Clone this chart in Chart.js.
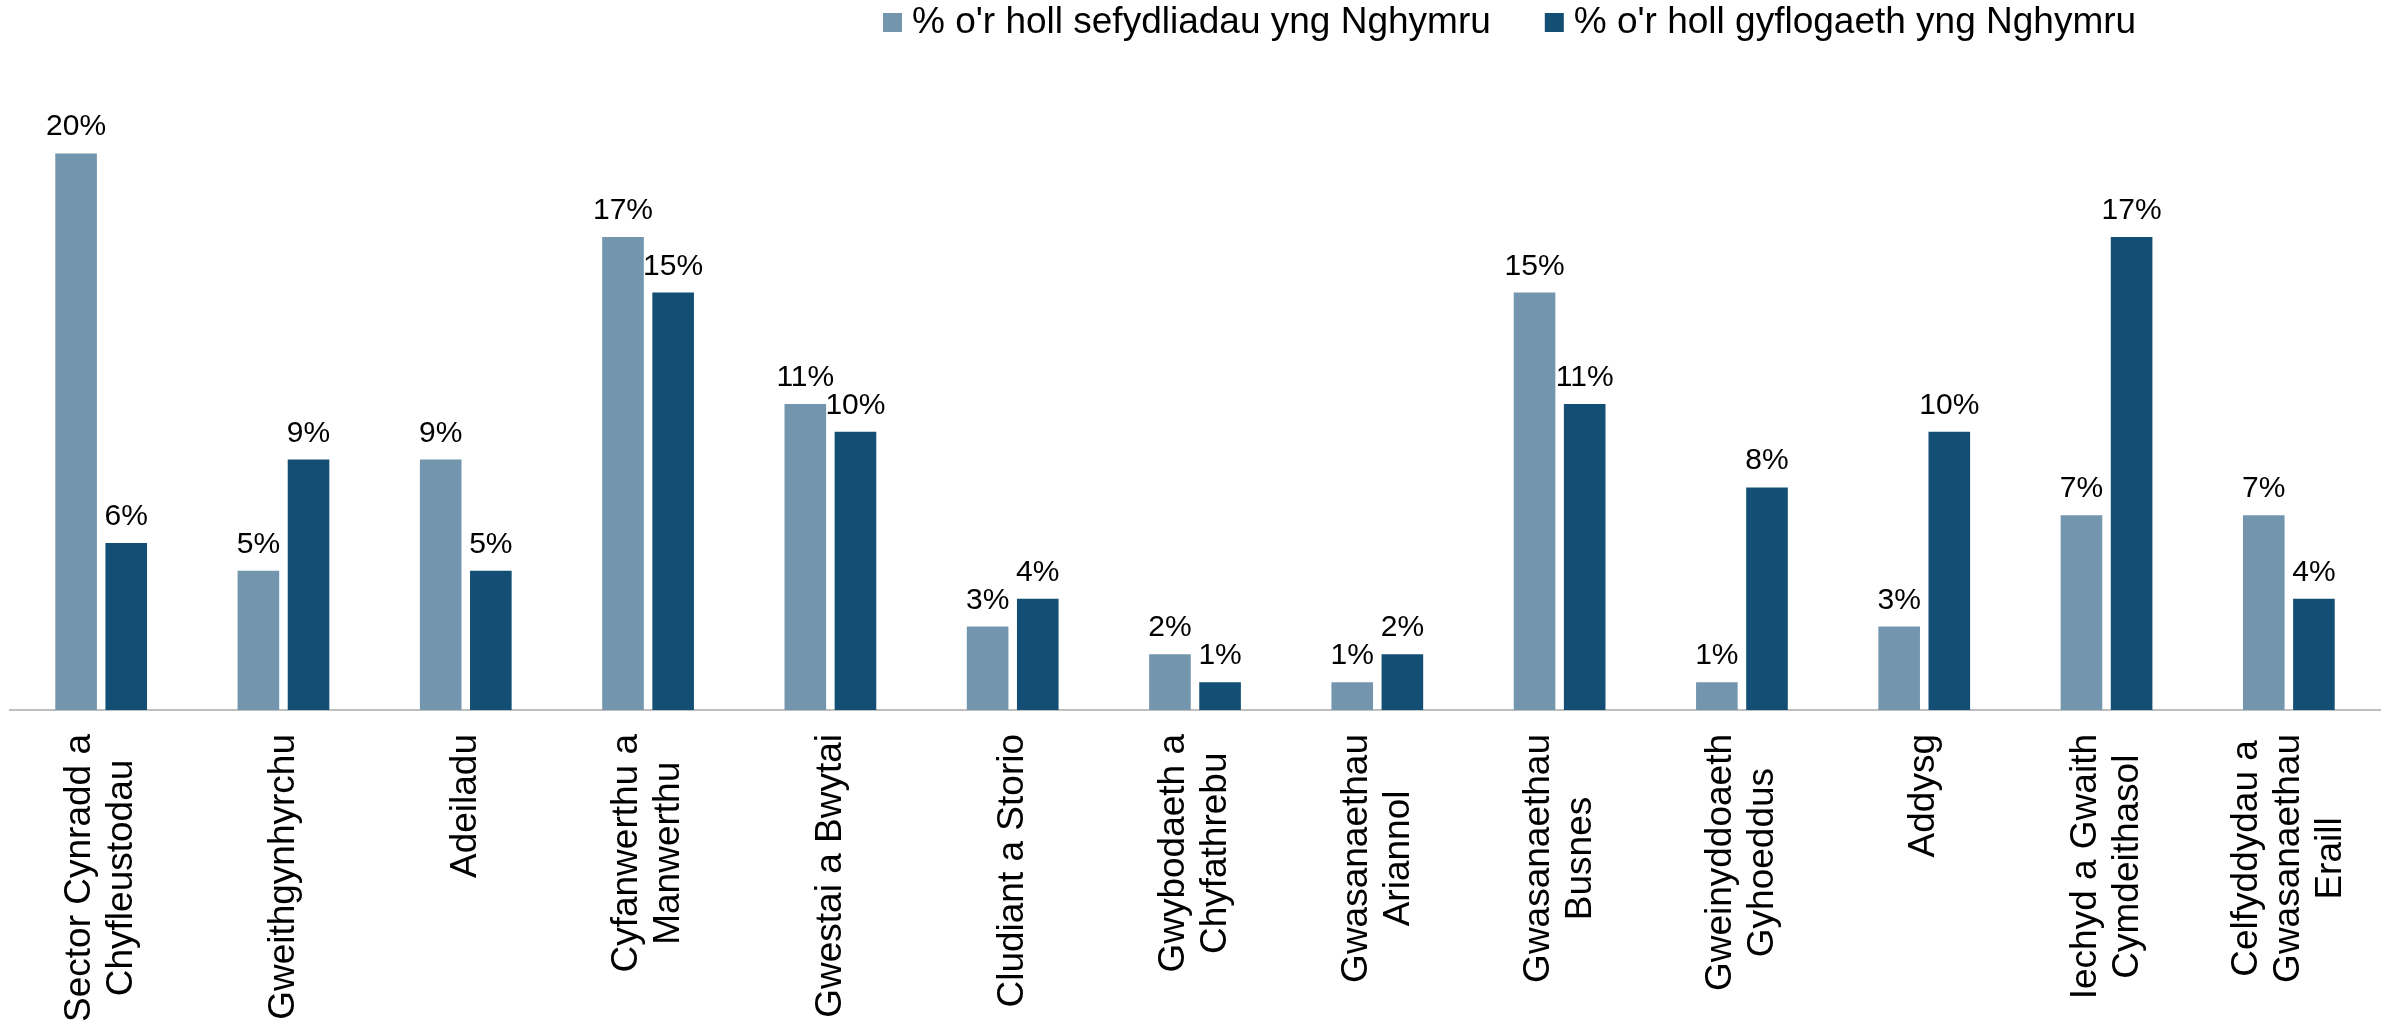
<!DOCTYPE html>
<html>
<head>
<meta charset="utf-8">
<title>Sefydliadau a chyflogaeth yng Nghymru</title>
<script src="https://cdn.jsdelivr.net/npm/chart.js@4"></script>
<style>
  html, body { margin: 0; padding: 0; background: #fff; }
  .chartblock { width: 2394px; height: 1025px; position: relative; }
</style>
</head>
<body>
<div class="chartblock"><canvas id="chart"></canvas></div>
<script>
// categories (each entry is the lines of the label)
const categories = [
  ['Sector Cynradd a', 'Chyfleustodau'],
  ['Gweithgynhyrchu'],
  ['Adeiladu'],
  ['Cyfanwerthu a', 'Manwerthu'],
  ['Gwestai a Bwytai'],
  ['Cludiant a Storio'],
  ['Gwybodaeth a', 'Chyfathrebu'],
  ['Gwasanaethau', 'Ariannol'],
  ['Gwasanaethau', 'Busnes'],
  ['Gweinyddoaeth', 'Gyhoeddus'],
  ['Addysg'],
  ['Iechyd a Gwaith', 'Cymdeithasol'],
  ['Celfyddydau a', 'Gwasanaethau', 'Eraill'],
];

const seriesNames = ["% o'r holl sefydliadau yng Nghymru", "% o'r holl gyflogaeth yng Nghymru"];
const sefydliadau = [20, 5, 9, 17, 11, 3, 2, 1, 15, 1, 3, 7, 7];
const cyflogaeth = [6, 9, 5, 15, 10, 4, 1, 2, 11, 8, 10, 17, 4];

const FONT = '"Liberation Sans", Arial, sans-serif';
const colors = ['#7396AE', '#134F74'];

// labels above each bar
const valueLabels = {
  id: 'valueLabels',
  afterDatasetsDraw(chart) {
    const ctx = chart.ctx;
    ctx.save();
    ctx.font = `30px ${FONT}`;
    ctx.fillStyle = '#000';
    ctx.textAlign = 'center';
    ctx.textBaseline = 'alphabetic';
    chart.data.datasets.forEach((ds, i) => {
      chart.getDatasetMeta(i).data.forEach((bar, j) => {
        ctx.fillText(ds.data[j] + '%', bar.x, bar.y - 18);
      });
    });
    ctx.restore();
  }
};

// vertical category labels, lines centred on each other
const categoryLabels = {
  id: 'categoryLabels',
  afterDraw(chart) {
    const ctx = chart.ctx;
    const xScale = chart.scales.x;
    const axisY = chart.chartArea.bottom;
    const lineHeight = 42;
    ctx.save();
    ctx.font = `37px ${FONT}`;
    ctx.fillStyle = '#000';
    ctx.textAlign = 'center';
    ctx.textBaseline = 'middle';
    categories.forEach((lines, i) => {
      const x = xScale.getPixelForValue(i);
      const maxW = Math.max(...lines.map(l => ctx.measureText(l).width));
      ctx.save();
      ctx.translate(x, axisY + 24 + maxW / 2);
      ctx.rotate(-Math.PI / 2);
      lines.forEach((line, k) => {
        ctx.fillText(line, 0, (k - (lines.length - 1) / 2) * lineHeight);
      });
      ctx.restore();
    });
    ctx.restore();
  }
};

// legend at the top
const topLegend = {
  id: 'topLegend',
  afterDraw(chart) {
    const ctx = chart.ctx;
    ctx.save();
    ctx.font = `37px ${FONT}`;
    ctx.textBaseline = 'middle';
    ctx.textAlign = 'left';
    let x = 883;
    const y = 23;
    chart.data.datasets.forEach(ds => {
      ctx.fillStyle = ds.backgroundColor;
      ctx.fillRect(x, y - 10, 19, 19);
      ctx.fillStyle = '#000';
      ctx.fillText(ds.label, x + 29, y);
      x += 29 + ctx.measureText(ds.label).width + 54;
    });
    ctx.restore();
  }
};

new Chart(document.getElementById('chart'), {
  type: 'bar',
  data: {
    labels: categories.map(c => c.join(' ')),
    datasets: [
      { label: seriesNames[0], data: sefydliadau, backgroundColor: colors[0] },
      { label: seriesNames[1], data: cyflogaeth, backgroundColor: colors[1] },
    ],
  },
  options: {
    responsive: true,
    maintainAspectRatio: false,
    animation: false,
    layout: { padding: { top: 70, left: 10, right: 14, bottom: 315 } },
    datasets: { bar: { categoryPercentage: 0.55, barPercentage: 0.83 } },
    scales: {
      x: {
        grid: { display: false, drawTicks: false },
        border: { display: true, color: '#BFBFBF', width: 2 },
        ticks: { display: false },
      },
      y: {
        display: false,
        min: 0,
        max: 23,
      },
    },
    plugins: {
      legend: { display: false },
      tooltip: { enabled: false },
    },
  },
  plugins: [valueLabels, categoryLabels, topLegend],
});
</script>
</body>
</html>
